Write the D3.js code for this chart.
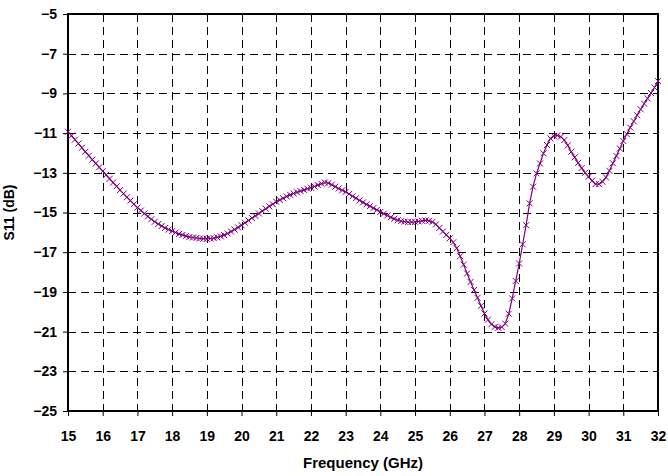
<!DOCTYPE html>
<html>
<head>
<meta charset="utf-8">
<script src="https://cdn.jsdelivr.net/npm/d3@7"></script>
<style>
  body { margin: 0; background: #fff; }
  svg text { font-family: "Liberation Sans", Arial, sans-serif; font-weight: bold; fill: #000; }
</style>
</head>
<body>
<div id="chart"></div>
<script>
// S11 sweep, one sample every 0.1 GHz from 15 to 32 GHz
var freqStart = 15;
var freqStep = 0.1;
var s11 = [
  -10.93, -11.13, -11.33, -11.53, -11.74, -11.94, -12.14, -12.34, -12.53, -12.72,
  -12.92, -13.11, -13.30, -13.49, -13.68, -13.87, -14.05, -14.23, -14.40, -14.58,
  -14.75, -14.90, -15.05, -15.20, -15.34, -15.47, -15.58, -15.68, -15.78, -15.86,
  -15.94, -16.01, -16.08, -16.13, -16.19, -16.23, -16.26, -16.28, -16.31, -16.32,
  -16.33, -16.31, -16.29, -16.25, -16.20, -16.14, -16.06, -15.96, -15.86, -15.75,
  -15.64, -15.52, -15.40, -15.28, -15.17, -15.05, -14.93, -14.81, -14.69, -14.58,
  -14.46, -14.37, -14.28, -14.19, -14.11, -14.04, -13.98, -13.92, -13.86, -13.80,
  -13.75, -13.69, -13.62, -13.55, -13.49, -13.52, -13.60, -13.70, -13.79, -13.88,
  -13.96, -14.07, -14.18, -14.28, -14.39, -14.49, -14.59, -14.68, -14.78, -14.87,
  -14.97, -15.06, -15.15, -15.24, -15.32, -15.39, -15.43, -15.46, -15.48, -15.48,
  -15.47, -15.45, -15.42, -15.40, -15.42, -15.47, -15.60, -15.78, -15.96, -16.13,
  -16.30, -16.50, -16.80, -17.20, -17.63, -18.07, -18.50, -18.90, -19.30, -19.70,
  -20.09, -20.40, -20.63, -20.76, -20.81, -20.78, -20.60, -20.10, -19.33, -18.45,
  -17.57, -16.60, -15.64, -14.54, -13.70, -13.03, -12.53, -12.02, -11.60, -11.27,
  -11.15, -11.12, -11.18, -11.35, -11.62, -11.94, -12.22, -12.50, -12.76, -13.00,
  -13.20, -13.40, -13.57, -13.57, -13.45, -13.23, -12.90, -12.52, -12.15, -11.78,
  -11.40, -11.05, -10.72, -10.40, -10.10, -9.80, -9.52, -9.25, -8.98, -8.70,
  -8.38
];
var xTicks = [15, 16, 17, 18, 19, 20, 21, 22, 23, 24, 25, 26, 27, 28, 29, 30, 31, 32];
var yTicks = [-5, -7, -9, -11, -13, -15, -17, -19, -21, -23, -25];
var xTitle = "Frequency (GHz)";
var yTitle = "S11 (dB)";

var width = 668, height = 476;
var margin = {top: 14, right: 10, bottom: 65, left: 68};
var purple = "#800080";

var data = s11.map(function(v, i) {
  return {f: freqStart + i * freqStep, v: v};
});

var svg = d3.select("#chart").append("svg")
  .attr("width", width)
  .attr("height", height);

var x = d3.scaleLinear().domain([15, 32]).range([margin.left, width - margin.right]);
var y = d3.scaleLinear().domain([-25, -5]).range([height - margin.bottom, margin.top]);

// dashed grid
var grid = svg.append("g");
grid.selectAll("line.h")
  .data(yTicks.slice(1, -1))
  .enter().append("line")
  .attr("x1", x(15)).attr("x2", x(32))
  .attr("y1", function(d) { return Math.round(y(d)) + 0.5; })
  .attr("y2", function(d) { return Math.round(y(d)) + 0.5; })
  .style("stroke", "#000")
  .style("stroke-dasharray", "8,5");
grid.selectAll("line.v")
  .data(xTicks.slice(1, -1))
  .enter().append("line")
  .attr("y1", y(-5)).attr("y2", y(-25))
  .attr("x1", function(d) { return Math.round(x(d)) + 0.5; })
  .attr("x2", function(d) { return Math.round(x(d)) + 0.5; })
  .style("stroke", "#000")
  .style("stroke-dasharray", "8,5");

// frame
svg.append("rect")
  .attr("x", x(15)).attr("y", y(-5))
  .attr("width", x(32) - x(15)).attr("height", y(-25) - y(-5))
  .style("fill", "none")
  .style("stroke", "#000")
  .style("stroke-width", 2);

// axes
var xAxis = d3.axisBottom(x).tickValues(xTicks).tickSize(5).tickPadding(15).tickFormat(d3.format("d"));
var yAxis = d3.axisLeft(y).tickValues(yTicks).tickSize(5).tickPadding(6).tickFormat(d3.format("d"));

var gx = svg.append("g")
  .attr("transform", "translate(0," + y(-25) + ")")
  .call(xAxis);
var gy = svg.append("g")
  .attr("transform", "translate(" + x(15) + ",0)")
  .call(yAxis);

[gx, gy].forEach(function(g) {
  g.select(".domain").remove();
  g.selectAll(".tick line").style("stroke", "#000");
  g.selectAll(".tick text")
    .style("font-size", "14px")
    .style("font-family", "'Liberation Sans', Arial, sans-serif")
    .style("font-weight", "bold");
});

// axis titles
svg.append("text")
  .attr("x", (x(15) + x(32)) / 2)
  .attr("y", 468)
  .attr("text-anchor", "middle")
  .style("font-size", "15px")
  .text(xTitle);

svg.append("text")
  .attr("transform", "translate(14," + (y(-5) + y(-25)) / 2 + ") rotate(-90)")
  .attr("text-anchor", "middle")
  .style("font-size", "14px")
  .text(yTitle);

// curve
var line = d3.line()
  .x(function(d) { return x(d.f); })
  .y(function(d) { return y(d.v); });

svg.append("path")
  .datum(data)
  .attr("d", line)
  .style("fill", "none")
  .style("stroke", purple)
  .style("stroke-width", 1.2);

// x markers
var cross = "M-3,-3L3,3M-3,3L3,-3";
svg.append("g").selectAll("path")
  .data(data)
  .enter().append("path")
  .attr("d", cross)
  .attr("transform", function(d) {
    return "translate(" + x(d.f) + "," + y(d.v) + ")";
  })
  .style("fill", "none")
  .style("stroke", purple)
  .style("stroke-width", 1);
</script>
</body>
</html>
